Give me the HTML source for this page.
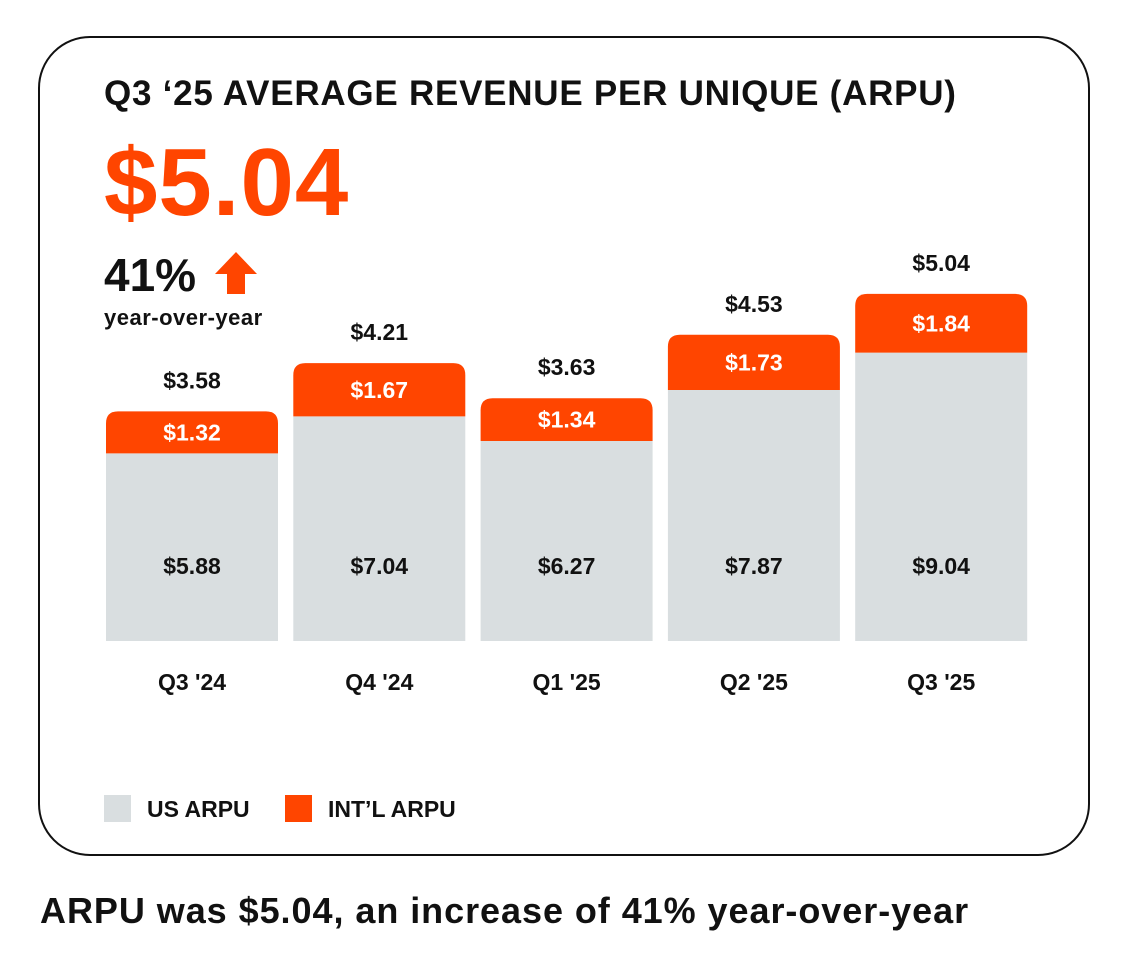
<!DOCTYPE html>
<html><head><meta charset="utf-8">
<style>
body{margin:0;width:1135px;height:955px;background:#fff;font-family:"Liberation Sans",sans-serif;overflow:hidden;position:relative}
.card{position:absolute;left:38px;top:36px;width:1052px;height:820px;border:2.5px solid #111;border-radius:52px;box-sizing:border-box}
.t{position:absolute;font-weight:bold;color:#111;white-space:nowrap}
</style></head><body>
<div class="card"></div>
<div class="t" style="left:104px;top:74px;font-size:35px;letter-spacing:0.75px">Q3 ‘25 AVERAGE REVENUE PER UNIQUE (ARPU)</div>
<div class="t" style="left:104px;top:128px;font-size:96px;color:#ff4500;letter-spacing:1px">$5.04</div>
<div class="t" style="left:104px;top:248px;font-size:46px">41%</div>
<svg style="position:absolute;left:214px;top:251px" width="44" height="44" viewBox="0 0 44 44"><path d="M22 1 L43 23 L31 23 L31 43 L13 43 L13 23 L1 23 Z" fill="#ff4500"/></svg>
<div class="t" style="left:104px;top:305px;font-size:22px;letter-spacing:0.5px">year-over-year</div>
<svg id="chart" style="position:absolute;left:0;top:0" width="1135" height="955"></svg>
<div style="position:absolute;left:104px;top:795px;width:27px;height:27px;background:#d9dee0"></div>
<div class="t" style="left:147px;top:796px;font-size:23px">US ARPU</div>
<div style="position:absolute;left:285px;top:795px;width:27px;height:27px;background:#ff4500"></div>
<div class="t" style="left:328px;top:796px;font-size:23px">INT’L ARPU</div>
<div class="t" style="left:40px;top:890px;font-size:36px;letter-spacing:0.95px">ARPU was $5.04, an increase of 41% year-over-year</div>
<script>
const categories=["Q3 '24","Q4 '24","Q1 '25","Q2 '25","Q3 '25"];
const usValues=[5.88,7.04,6.27,7.87,9.04];
const intlValues=[1.32,1.67,1.34,1.73,1.84];
const totalLabels=["$3.58","$4.21","$3.63","$4.53","$5.04"];
const svg=document.getElementById('chart');
const NS='http://www.w3.org/2000/svg';
const base=641,scale=31.9,x0=106,step=187.3,bw=172;
const y=v=>base-v*scale;
function el(tag,a){const e=document.createElementNS(NS,tag);for(const k in a)e.setAttribute(k,a[k]);svg.appendChild(e);return e;}
function txt(s,x,yy,size,fill,name){const t=el('text',{x:x,y:yy,'text-anchor':'middle','font-size':size,'font-weight':'bold',fill:fill,'font-family':'Liberation Sans, sans-serif'});t.textContent=s;


return t;}
categories.forEach((c,i)=>{
 const x=x0+i*step,cx=x+bw/2;
 const yu=y(usValues[i]),yt=y(usValues[i]+intlValues[i]),r=12;
 const u=el('rect',{x:x,y:yu,width:bw,height:base-yu,fill:'#d9dee0'});
 
 
 const p=el('path',{d:`M${x} ${yu} L${x} ${yt+r} Q${x} ${yt} ${x+r} ${yt} L${x+bw-r} ${yt} Q${x+bw} ${yt} ${x+bw} ${yt+r} L${x+bw} ${yu} Z`,fill:'#ff4500'});
 
 
 txt('$'+intlValues[i].toFixed(2),cx,(yu+yt)/2+8,23,'#fff','intl-value-label');
 txt('$'+usValues[i].toFixed(2),cx,574,23,'#111','us-value-label');
 txt(totalLabels[i],cx,yt-23,23,'#111','total-value-label');
 txt(c,cx,690,23,'#111','category-label');
});
</script>
</body></html>
